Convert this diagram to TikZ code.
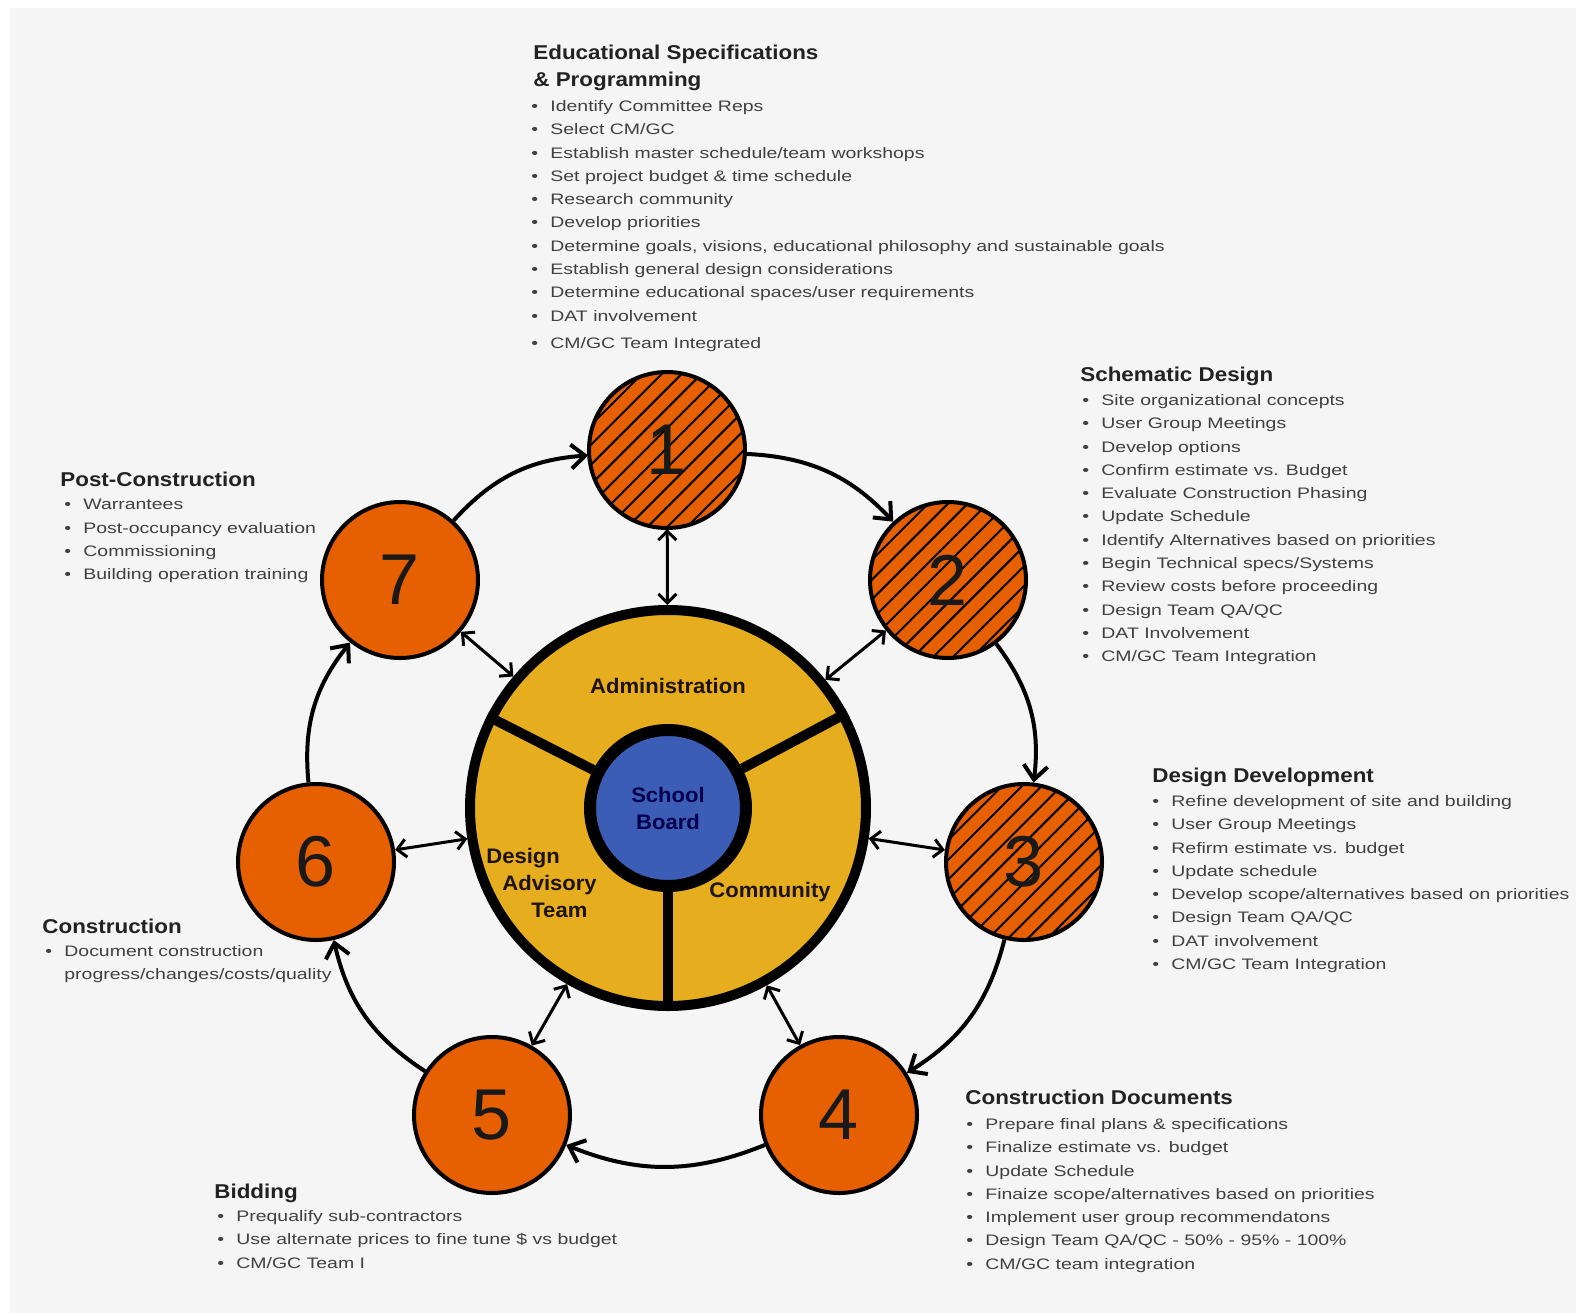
\documentclass[tikz,border=0pt]{standalone}
\usepackage{fontspec}
\setmainfont{Liberation Sans}
\newfontfamily\listfont{Liberation Sans}[FakeStretch=1.28]
\newfontfamily\headfont{Liberation Sans}[FakeStretch=1.12]
\newfontfamily\hubfont{Liberation Sans}[FakeStretch=1.05]
\usetikzlibrary{graphs, arrows.meta, patterns.meta}

\definecolor{bggray}{HTML}{F5F5F5}
\definecolor{phaseorange}{HTML}{E65F00}
\definecolor{hubgold}{HTML}{E6AE1E}
\definecolor{boardblue}{HTML}{3C5DB6}
\definecolor{headgray}{HTML}{222222}
\definecolor{listgray}{HTML}{404040}

\newcommand{\phaseitem}[1]{\makebox[9.5pt][l]{\textbullet}#1}

\begin{document}
\begin{tikzpicture}[
                x=0.5pt,
                y=-0.5pt,
                phase/.style={circle, draw=black, line width=2pt,
                    fill=phaseorange, minimum size=78pt, inner sep=0pt,
                    text=black!90, font=\fontsize{36}{36}\selectfont},
                hatched/.style={preaction={fill=phaseorange},
                    pattern={Lines[angle=45,distance=7pt,line width=1pt]}},
                phasearrow/.style={line width=2pt,
                    -{Straight Barb[length=7pt,width=12pt]}},
                spoke/.style={line width=1.5pt,
                    {Straight Barb[length=4.5pt,width=9pt]}-{Straight Barb[length=4.5pt,width=9pt]}},
                divider/.style={line width=5pt},
                hublabel/.style={align=center, inner sep=0pt,
                    text=black!85!brown,
                    font=\hubfont\bfseries\fontsize{10.5}{13.3}\selectfont},
                phasehead/.style={anchor=north west, align=left, inner sep=0pt,
                    text=headgray,
                    font=\headfont\bfseries\fontsize{10}{13.5}\selectfont},
                phaselist/.style={anchor=north west, align=left, inner sep=0pt,
                    text=listgray,
                    font=\listfont\fontsize{7.6}{11.65}\selectfont},
            ]
            \useasboundingbox (0,0) rectangle (1576,1313);
            \fill[white] (0,0) rectangle (1576,1313);
            \fill[bggray] (10,8) rectangle (1576,1313);

            \node[circle, draw=black, line width=5pt, fill=hubgold,
                minimum size=198pt, inner sep=0pt] (H) at (668,808) {};
            \node[circle, draw=black, line width=6pt, fill=boardblue,
                minimum size=78pt, inner sep=0pt, align=center,
                text=blue!30!black,
                font=\hubfont\bfseries\fontsize{10.5}{13.5}\selectfont]
                (SB) at (668,808) {School\\Board};
            \draw[divider] (SB.153) -- (H.153);
            \draw[divider] (SB.28) -- (H.28);
            \draw[divider] (SB.270) -- (H.270);

            \node[hublabel] (admin) at (668,686) {Administration};
            \node[hublabel, align=left, anchor=west] (dat) at (486,883)
                {Design\\\hspace*{8pt}Advisory\\\hspace*{22.5pt}Team};
            \node[hublabel] (comm) at (770,892) {Community};

            \node[phase, hatched] (E) at (667,450) {1};
            \node[phase, hatched] (S) at (948,580) {2};
            \node[phase, hatched] (D) at (1024,862) {3};
            \node[phase] (C) at (839,1115) {4};
            \node[phase] (B) at (492,1115) {5};
            \node[phase] (K) at (316,862) {6};
            \node[phase] (P) at (400,580) {7};

            \graph[use existing nodes]{
                P ->[phasearrow, bend left=22]
                E ->[phasearrow, bend left=22]
                S ->[phasearrow, bend left=22]
                D ->[phasearrow, bend left=22]
                C ->[phasearrow, bend left=22]
                B ->[phasearrow, bend left=22]
                K ->[phasearrow, bend left=22]
                P
                ;

                H <->[spoke] {E, S, D, C, B, K, P}
                ;
            } ;

            \node[phasehead] (Ehead) at (533,45)
                {Educational Specifications\\\& Programming};
            \node[phaselist] (Elist) at (531,100) {
                \phaseitem{Identify Committee Reps}\\
                \phaseitem{Select CM/GC}\\
                \phaseitem{Establish master schedule/team workshops}\\
                \phaseitem{Set project budget \& time schedule}\\
                \phaseitem{Research community}\\
                \phaseitem{Develop priorities}\\
                \phaseitem{Determine goals, visions, educational philosophy and sustainable goals}\\
                \phaseitem{Establish general design considerations}\\
                \phaseitem{Determine educational spaces/user requirements}\\
                \phaseitem{DAT involvement}\\[2pt]
                \phaseitem{CM/GC Team Integrated}};

            \node[phasehead] (Shead) at (1080,367) {Schematic Design};
            \node[phaselist] (Slist) at (1082,394) {
                \phaseitem{Site organizational concepts}\\
                \phaseitem{User Group Meetings}\\
                \phaseitem{Develop options}\\
                \phaseitem{Confirm estimate vs. Budget}\\
                \phaseitem{Evaluate Construction Phasing}\\
                \phaseitem{Update Schedule}\\
                \phaseitem{Identify Alternatives based on priorities}\\
                \phaseitem{Begin Technical specs/Systems}\\
                \phaseitem{Review costs before proceeding}\\
                \phaseitem{Design Team QA/QC}\\
                \phaseitem{DAT Involvement}\\
                \phaseitem{CM/GC Team Integration}};

            \node[phasehead] (Dhead) at (1152,768) {Design Development};
            \node[phaselist] (Dlist) at (1152,795) {
                \phaseitem{Refine development of site and building}\\
                \phaseitem{User Group Meetings}\\
                \phaseitem{Refirm estimate vs. budget}\\
                \phaseitem{Update schedule}\\
                \phaseitem{Develop scope/alternatives based on priorities}\\
                \phaseitem{Design Team QA/QC}\\
                \phaseitem{DAT involvement}\\
                \phaseitem{CM/GC Team Integration}};

            \node[phasehead] (Chead) at (965,1090) {Construction Documents};
            \node[phaselist] (Clist) at (966,1118) {
                \phaseitem{Prepare final plans \& specifications}\\
                \phaseitem{Finalize estimate vs. budget}\\
                \phaseitem{Update Schedule}\\
                \phaseitem{Finaize scope/alternatives based on priorities}\\
                \phaseitem{Implement user group recommendatons}\\
                \phaseitem{Design Team QA/QC - 50\% - 95\% - 100\%}\\
                \phaseitem{CM/GC team integration}};

            \node[phasehead] (Bhead) at (214,1184) {Bidding};
            \node[phaselist] (Blist) at (217,1210) {
                \phaseitem{Prequalify sub-contractors}\\
                \phaseitem{Use alternate prices to fine tune \$ vs budget}\\
                \phaseitem{CM/GC Team I}};

            \node[phasehead] (Khead) at (42,919) {Construction};
            \node[phaselist] (Klist) at (45,945) {
                \phaseitem{Document construction}\\
                \hspace*{9.5pt}progress/changes/costs/quality};

            \node[phasehead] (Phead) at (60,472) {Post-Construction};
            \node[phaselist] (Plist) at (64,499) {
                \phaseitem{Warrantees}\\
                \phaseitem{Post-occupancy evaluation}\\
                \phaseitem{Commissioning}\\
                \phaseitem{Building operation training}};
        \end{tikzpicture}
\end{document}
